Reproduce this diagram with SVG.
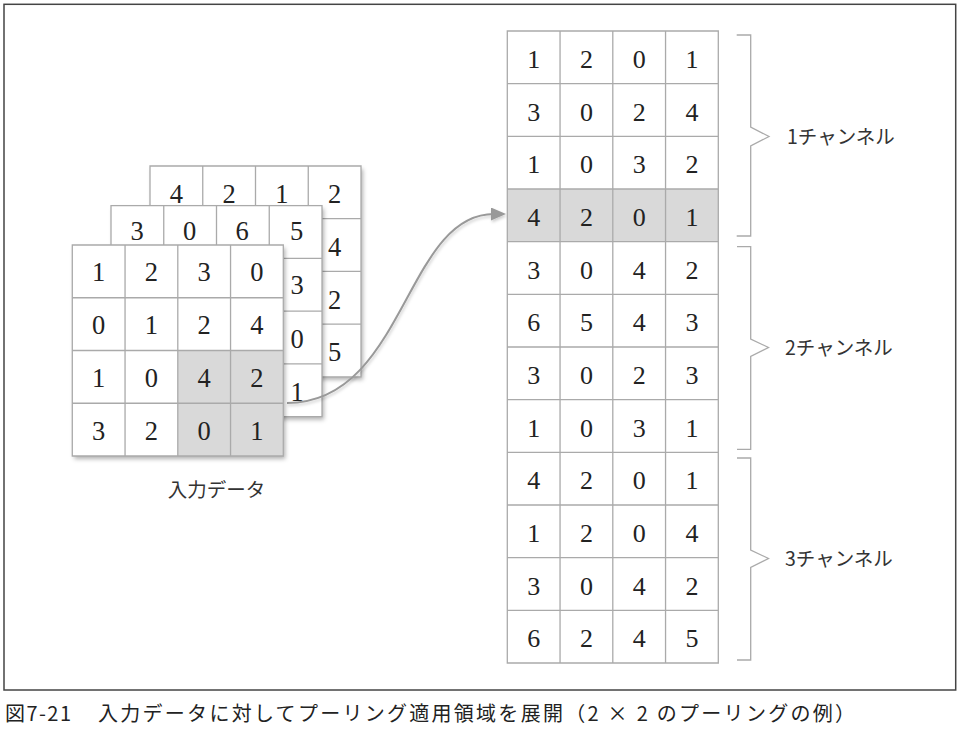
<svg xmlns="http://www.w3.org/2000/svg" width="961" height="732" viewBox="0 0 961 732">
<style>
.num{font-family:"Liberation Serif","DejaVu Serif",serif;font-size:26.5px;fill:#222;text-anchor:middle}
.numr{font-family:"Liberation Serif","DejaVu Serif",serif;font-size:26px;fill:#222;text-anchor:middle}
.cell{fill:#fff;stroke:none}
.hl{fill:#d9d9d9;stroke:none}
.gl{stroke:#aaa;stroke-width:1.3;fill:none}
.lbl{font-family:"Noto Sans CJK JP","Noto Sans",sans-serif;font-size:19.5px;fill:#333}
.cap{font-family:"Noto Sans CJK JP","Noto Sans",sans-serif;font-size:20px;fill:#222}
.brace{stroke:#aaa;stroke-width:1.3;fill:none}
</style>
<defs>
<filter id="sh" x="-10%" y="-10%" width="130%" height="130%">
<feDropShadow dx="2" dy="3" stdDeviation="2.2" flood-color="#000" flood-opacity="0.3"/>
</filter>
<filter id="ash" x="-10%" y="-10%" width="130%" height="130%">
<feDropShadow dx="1" dy="2" stdDeviation="1.5" flood-color="#000" flood-opacity="0.2"/>
</filter>
<marker id="ah" markerUnits="userSpaceOnUse" markerWidth="15" markerHeight="13" refX="3" refY="6.5" orient="auto">
<path d="M0,0 L15,6.5 L0,13 Z" fill="#999"/>
</marker>
</defs>
<rect x="4" y="4.3" width="951.7" height="685.7" fill="#fff" stroke="#444" stroke-width="1.5"/>

<g id="back-grid">
<rect class="cell" x="150" y="166" width="211" height="210.8" filter="url(#sh)"/>
<path class="gl" d="M150,166H361V376.8H150Z M202.75,166V376.8 M255.5,166V376.8 M308.25,166V376.8 M150,218.7H361 M150,271.4H361 M150,324.1H361"/>
<text class="num" x="176.4" y="203">4</text>
<text class="num" x="229.1" y="203">2</text>
<text class="num" x="281.9" y="203">1</text>
<text class="num" x="334.6" y="203">2</text>
<text class="num" x="334.6" y="256">4</text>
<text class="num" x="334.6" y="309">2</text>
<text class="num" x="334.6" y="360.5">5</text>
</g>

<g id="middle-grid">
<rect class="cell" x="111" y="205.7" width="211" height="211" filter="url(#sh)"/>
<path class="gl" d="M111,205.7H322V416.7H111Z M163.75,205.7V416.7 M216.5,205.7V416.7 M269.25,205.7V416.7 M111,258.45H322 M111,311.2H322 M111,363.95H322"/>
<text class="num" x="137" y="239.5">3</text>
<text class="num" x="189.5" y="239.5">0</text>
<text class="num" x="242" y="239.5">6</text>
<text class="num" x="296.5" y="239.5">5</text>
<text class="num" x="297" y="294">3</text>
<text class="num" x="297" y="347.5">0</text>
<text class="num" x="297" y="400.5">1</text>
</g>

<g id="connectors">
<path d="M287,403 C405,403 405,214 494,214" fill="none" stroke="#999" stroke-width="2" marker-end="url(#ah)" filter="url(#ash)"/>
</g>

<g id="front-grid">
<rect class="cell" x="72.3" y="245" width="211" height="211" filter="url(#sh)"/>
<rect class="hl" x="177.8" y="350.5" width="105.5" height="105.5"/>
<path class="gl" d="M72.3,245H283.3V456H72.3Z M125.05,245V456 M177.8,245V456 M230.55,245V456 M72.3,297.75H283.3 M72.3,350.5H283.3 M72.3,403.25H283.3"/>
<text class="num" x="98.7" y="281">1</text>
<text class="num" x="151.4" y="281">2</text>
<text class="num" x="204.2" y="281">3</text>
<text class="num" x="256.9" y="281">0</text>
<text class="num" x="98.7" y="334">0</text>
<text class="num" x="151.4" y="334">1</text>
<text class="num" x="204.2" y="334">2</text>
<text class="num" x="256.9" y="334">4</text>
<text class="num" x="98.7" y="386.5">1</text>
<text class="num" x="151.4" y="386.5">0</text>
<text class="num" x="204.2" y="386.5">4</text>
<text class="num" x="256.9" y="386.5">2</text>
<text class="num" x="98.7" y="439.5">3</text>
<text class="num" x="151.4" y="439.5">2</text>
<text class="num" x="204.2" y="439.5">0</text>
<text class="num" x="256.9" y="439.5">1</text>
</g>

<g id="input-label">
<text class="lbl" x="216.5" y="497" text-anchor="middle">入力データ</text>
</g>

<g id="expanded-column">
<rect class="cell" x="507.3" y="31" width="211" height="632"/>
<rect class="hl" x="507.3" y="189" width="211" height="52.67"/>
<path class="gl" d="M507.3,31H718.3V663H507.3Z M560.05,31V663 M612.8,31V663 M665.55,31V663 M507.3,83.67H718.3 M507.3,136.33H718.3 M507.3,189H718.3 M507.3,241.67H718.3 M507.3,294.33H718.3 M507.3,347H718.3 M507.3,399.67H718.3 M507.3,452.33H718.3 M507.3,505H718.3 M507.3,557.67H718.3 M507.3,610.33H718.3"/>
<g>
<text class="numr" x="533.7" y="67.8">1</text><text class="numr" x="586.4" y="67.8">2</text><text class="numr" x="639.2" y="67.8">0</text><text class="numr" x="691.9" y="67.8">1</text>
<text class="numr" x="533.7" y="120.5">3</text><text class="numr" x="586.4" y="120.5">0</text><text class="numr" x="639.2" y="120.5">2</text><text class="numr" x="691.9" y="120.5">4</text>
<text class="numr" x="533.7" y="173.1">1</text><text class="numr" x="586.4" y="173.1">0</text><text class="numr" x="639.2" y="173.1">3</text><text class="numr" x="691.9" y="173.1">2</text>
<text class="numr" x="533.7" y="225.8">4</text><text class="numr" x="586.4" y="225.8">2</text><text class="numr" x="639.2" y="225.8">0</text><text class="numr" x="691.9" y="225.8">1</text>
<text class="numr" x="533.7" y="278.5">3</text><text class="numr" x="586.4" y="278.5">0</text><text class="numr" x="639.2" y="278.5">4</text><text class="numr" x="691.9" y="278.5">2</text>
<text class="numr" x="533.7" y="331.1">6</text><text class="numr" x="586.4" y="331.1">5</text><text class="numr" x="639.2" y="331.1">4</text><text class="numr" x="691.9" y="331.1">3</text>
<text class="numr" x="533.7" y="383.8">3</text><text class="numr" x="586.4" y="383.8">0</text><text class="numr" x="639.2" y="383.8">2</text><text class="numr" x="691.9" y="383.8">3</text>
<text class="numr" x="533.7" y="436.5">1</text><text class="numr" x="586.4" y="436.5">0</text><text class="numr" x="639.2" y="436.5">3</text><text class="numr" x="691.9" y="436.5">1</text>
<text class="numr" x="533.7" y="489.1">4</text><text class="numr" x="586.4" y="489.1">2</text><text class="numr" x="639.2" y="489.1">0</text><text class="numr" x="691.9" y="489.1">1</text>
<text class="numr" x="533.7" y="541.8">1</text><text class="numr" x="586.4" y="541.8">2</text><text class="numr" x="639.2" y="541.8">0</text><text class="numr" x="691.9" y="541.8">4</text>
<text class="numr" x="533.7" y="594.5">3</text><text class="numr" x="586.4" y="594.5">0</text><text class="numr" x="639.2" y="594.5">4</text><text class="numr" x="691.9" y="594.5">2</text>
<text class="numr" x="533.7" y="647.1">6</text><text class="numr" x="586.4" y="647.1">2</text><text class="numr" x="639.2" y="647.1">4</text><text class="numr" x="691.9" y="647.1">5</text>
</g>
</g>

<g id="channel-1">
<path class="brace" d="M736.7,35H750.7V127L769,136.5L750.7,146V236H736.7"/>
<text class="lbl" x="787" y="144">1チャンネル</text>
</g>
<g id="channel-2">
<path class="brace" d="M737,246.7H750.7V339L768.5,347.5L750.7,356.5V449.3H737"/>
<text class="lbl" x="785" y="355">2チャンネル</text>
</g>
<g id="channel-3">
<path class="brace" d="M737,458H750.7V550L768.5,558.5L750.7,567.5V660H737"/>
<text class="lbl" x="785" y="566">3チャンネル</text>
</g>

<g id="caption">
<text class="cap" y="721"><tspan x="5" textLength="66" lengthAdjust="spacing">図7-21</tspan><tspan x="98" textLength="757" lengthAdjust="spacing">入力データに対してプーリング適用領域を展開（2 × 2 のプーリングの例）</tspan></text>
</g>
</svg>
